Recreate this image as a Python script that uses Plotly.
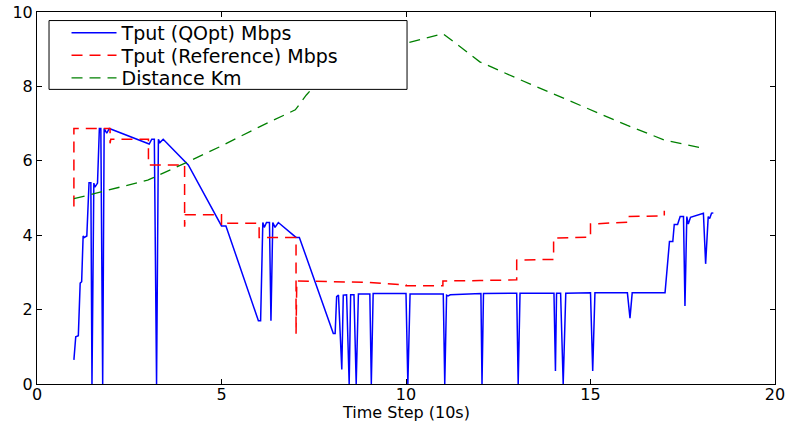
import plotly.graph_objects as go

# Tput (QOpt) Mbps
qopt_x = [1.00, 1.05, 1.12, 1.17, 1.21, 1.25, 1.28, 1.35, 1.41, 1.46, 1.49, 1.54, 1.57, 1.64,
          1.69, 1.73, 1.78, 1.82, 1.89, 1.96, 3.04, 3.11, 3.18, 3.24, 3.29, 3.33, 3.42, 4.10,
          5.00, 5.12, 6.00, 6.06, 6.12, 6.16, 6.22, 6.30, 6.34, 6.39, 6.45, 6.54, 7.02, 7.11,
          8.03, 8.08, 8.12, 8.17, 8.26, 8.30, 8.39, 8.46, 8.50, 8.59, 8.65, 8.71, 9.02, 9.06,
          9.11, 10.00, 10.05, 10.11, 11.01, 11.05, 11.10, 11.14, 11.20, 12.03, 12.06, 12.10,
          13.00, 13.04, 13.09, 14.01, 14.05, 14.08, 14.19, 14.26, 14.33, 15.00, 15.06, 15.12,
          16.00, 16.07, 16.13, 17.02, 17.14, 17.23, 17.27, 17.36, 17.43, 17.52, 17.56, 17.61,
          17.65, 17.71, 18.06, 18.12, 18.19, 18.23, 18.28, 18.33]
qopt_y = [0.65, 1.27, 1.30, 2.71, 2.75, 3.98, 3.94, 3.98, 5.41, 5.41, 0.00, 5.40, 5.29, 5.40,
          6.87, 6.87, 0.00, 6.87, 6.74, 6.87, 6.45, 6.58, 6.58, 0.00, 6.58, 6.49, 6.58, 5.89,
          4.25, 4.25, 1.70, 1.70, 4.34, 4.21, 4.34, 4.34, 1.70, 4.34, 4.21, 4.34, 3.94, 3.94,
          1.36, 1.36, 2.35, 2.39, 0.39, 2.39, 2.40, 0.00, 2.40, 2.40, 0.00, 2.42, 2.42, 0.00,
          2.43, 2.43, 0.00, 2.42, 2.42, 0.00, 2.39, 2.37, 2.40, 2.43, 0.00, 2.43,
          2.44, 0.00, 2.44, 2.44, 0.35, 2.44, 2.44, 0.00, 2.44, 2.45, 0.35, 2.45,
          2.45, 1.77, 2.45, 2.45, 3.83, 3.83, 4.29, 4.29, 4.50, 4.50, 2.10, 4.50,
          4.30, 4.48, 4.59, 3.23, 4.50, 4.45, 4.59, 4.60]

# Tput (Reference) Mbps
ref_x = [1.00, 1.00, 1.98, 1.98, 2.00, 3.02, 3.02, 3.04, 4.00, 4.00, 4.02, 5.00, 5.00, 5.02,
         6.02, 6.02, 6.04, 7.02, 7.02, 7.04, 8.00, 9.00, 10.00, 10.00, 11.00, 11.00, 12.00,
         13.00, 13.00, 14.00, 14.00, 15.00, 15.00, 16.00, 16.00, 17.00, 17.00]
ref_y = [4.77, 6.87, 6.87, 6.47, 6.58, 6.58, 5.89, 5.89, 5.89, 4.23, 4.55, 4.55, 4.27, 4.32,
         4.32, 3.94, 3.94, 3.94, 1.34, 2.77, 2.75, 2.73, 2.66, 2.64, 2.64, 2.77, 2.78,
         2.80, 3.33, 3.35, 3.92, 3.95, 4.30, 4.35, 4.50, 4.52, 4.66]

# Distance Km
dist_x = [1, 2, 3, 4, 5, 6, 7, 7.3, 8, 9, 10, 11, 12, 13, 14, 15, 16, 17, 18]
dist_y = [4.98, 5.22, 5.48, 5.93, 6.40, 6.90, 7.37, 7.77, 8.55, 8.95, 9.16, 9.42, 8.66,
          8.22, 7.80, 7.38, 6.95, 6.56, 6.35]

x_ticks = [0, 5, 10, 15, 20]
y_ticks = [0, 2, 4, 6, 8, 10]
x_title = "Time Step (10s)"

FONT = "DejaVu Sans"

fig = go.Figure()
fig.add_trace(go.Scatter(x=qopt_x, y=qopt_y, mode="lines", name="Tput (QOpt) Mbps",
                         line=dict(color="#0000ff", width=1.5), legend="legend"))
fig.add_trace(go.Scatter(x=ref_x, y=ref_y, mode="lines", name="Tput (Reference) Mbps",
                         line=dict(color="#ff0000", width=1.5, dash="11px,7px"), legend="legend2"))
fig.add_trace(go.Scatter(x=dist_x, y=dist_y, mode="lines", name="Distance Km",
                         line=dict(color="#008000", width=1.3, dash="11px,7px"), legend="legend3"))

axis_common = dict(showline=True, linecolor="black", linewidth=1, mirror="ticks",
                   ticks="inside", ticklen=5, tickcolor="black", showgrid=False,
                   zeroline=False, automargin=False, ticklabeloverflow="allow",
                   tickfont=dict(family=FONT, size=16, color="black"))

def legend_at(yc):
    return dict(x=0.04, y=yc, xanchor="left", yanchor="middle",
                bgcolor="rgba(0,0,0,0)", borderwidth=0,
                font=dict(family=FONT, size=19, color="black"),
                itemwidth=45, tracegroupgap=0)

fig.update_layout(
    width=785, height=421,
    margin=dict(l=37, r=10, t=12, b=37, pad=0),
    paper_bgcolor="white", plot_bgcolor="white",
    font=dict(family=FONT, size=16, color="black"),
    xaxis=dict(range=[0, 20], tickvals=x_ticks, ticklabelstandoff=-4, **axis_common),
    yaxis=dict(range=[0, 10], tickvals=y_ticks, **axis_common),
    showlegend=True,
    legend=legend_at(0.9435),
    legend2=legend_at(0.8831),
    legend3=legend_at(0.8226),
    shapes=[dict(type="rect", xref="paper", yref="paper",
                 x0=0.0163, x1=0.5014, y0=0.792, y1=0.977,
                 line=dict(color="black", width=1), fillcolor="white", layer="above")],
    annotations=[dict(text=x_title, xref="paper", yref="paper", x=0.5, y=-0.076,
                      xanchor="center", yanchor="middle", showarrow=False,
                      font=dict(family=FONT, size=16, color="black"))],
)

# remove the default 8px page margin so the 785x421 figure fills the window exactly
fig.write_html("out.html", config={"displayModeBar": False},
               post_script="document.body.style.margin='0';")
